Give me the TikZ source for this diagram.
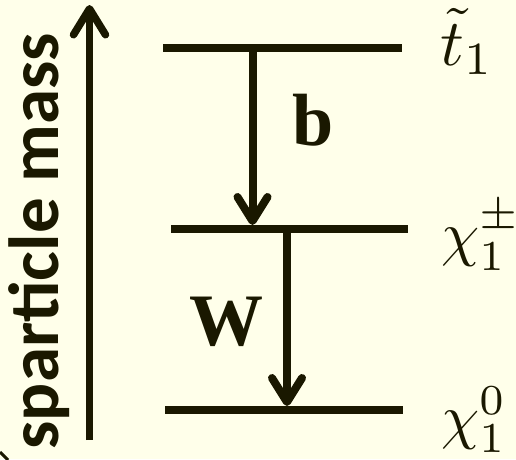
\documentclass[tikz,border=0pt]{standalone}
\usepackage{fontspec}
\usepackage{amsmath}
\usepackage{tikz}
\usetikzlibrary{arrows.meta,positioning}
\setmainfont{Liberation Serif}
\newfontfamily\axisfont{Carlito}
\definecolor{levelPaper}{HTML}{FFFFEA}
\definecolor{levelInk}{HTML}{1A1800}
\newcommand{\statemath}[2][6.8]{\scalebox{#1}{$#2$}}
\tikzset{
  level/.style={draw=levelInk, line width=8pt},
  decay/.style={draw=levelInk, line width=8pt, -{Straight Barb[length=24pt, width=30pt, round]}},
  massaxis/.style={draw=levelInk, line width=7.5pt, -{Straight Barb[length=26pt, width=32pt, round]}},
  statelbl/.style={text=levelInk, anchor=base west, inner sep=0pt},
  bosonlbl/.style={text=levelInk, inner sep=0pt, font=\fontsize{74}{80}\selectfont\bfseries},
  axislbl/.style={text=levelInk, inner sep=0pt, font=\axisfont\fontsize{71}{80}\selectfont\bfseries}
}

\begin{document}
\begin{tikzpicture}[x=1pt, y=-1pt]
    \fill[levelPaper] (0,0) rectangle (516,459);
    \useasboundingbox (0,0) rectangle (516,459);
    \draw[levelInk, line width=3pt] (0,452) -- (8,460);

    % mass axis
    \coordinate (axisLow) at (89.5,440);
    \coordinate (axisHigh) at (89.5,5);
    \draw[massaxis] (axisLow) -- (axisHigh);
    \node[axislbl, rotate=90, anchor=base] (axisText) at (58,241) {sparticle mass};

    % levels
    \coordinate (stopL) at (163,47.5);
    \coordinate (stopR) at (402,47.5);
    \coordinate (charL) at (171,229);
    \coordinate (charR) at (408,229);
    \coordinate (neutL) at (165,410);
    \coordinate (neutR) at (403,410);
    \draw[level] (stopL) -- (stopR);
    \draw[level] (charL) -- (charR);
    \draw[level] (neutL) -- (neutR);

    \node[statelbl] (stopLbl) at (440,65) {\statemath[6.6]{\tilde{t}_1}};
    \node[statelbl] (charLbl) at (441,254) {\statemath[6.1]{\chi_1^{\pm}}};
    \node[statelbl] (neutLbl) at (441,437) {\statemath[6.1]{\chi_1^{0}}};

    % decays
    \coordinate (bTop) at (252.5,47.5);
    \coordinate (bEnd) at (252.5,225);
    \coordinate (wTop) at (287,229);
    \coordinate (wEnd) at (287,406);
    \draw[decay] (bTop) -- (bEnd);
    \draw[decay] (wTop) -- (wEnd);
    \node[bosonlbl] (bLbl) at (313,120) {b};
    \node[bosonlbl] (wLbl) at (226,322) {W};
\end{tikzpicture}
\end{document}
